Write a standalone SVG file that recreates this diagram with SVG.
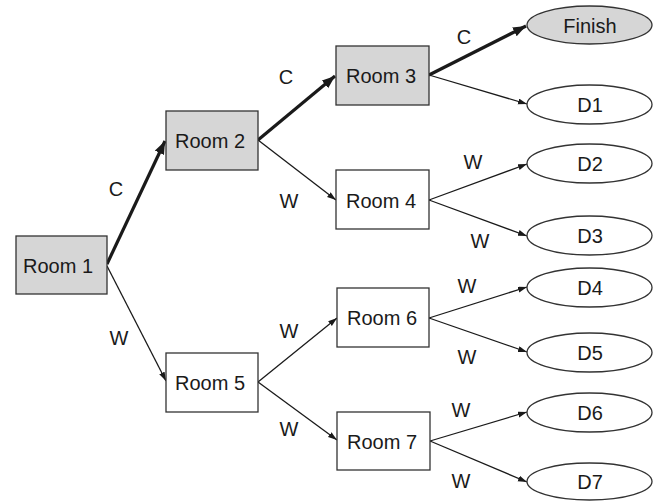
<svg xmlns="http://www.w3.org/2000/svg" width="657" height="501" viewBox="0 0 657 501">
<style>
text{font-family:"Liberation Sans",Arial,sans-serif;font-size:20px;fill:#1a1a1a;text-anchor:middle}
.box{stroke:#333;stroke-width:1.3;fill:#fff}
.g{fill:#d6d6d6}
.thin{stroke:#1a1a1a;stroke-width:1.3;fill:none;marker-end:url(#a)}
.thick{stroke:#1a1a1a;stroke-width:3.2;fill:none;marker-end:url(#b)}
</style>
<defs>
<marker id="a" markerUnits="userSpaceOnUse" markerWidth="10" markerHeight="8" refX="9" refY="3" orient="auto"><path d="M0,0 L9,3 L0,6 Z" fill="#1a1a1a"/></marker>
<marker id="b" markerUnits="userSpaceOnUse" markerWidth="14" markerHeight="11" refX="13" refY="5" orient="auto"><path d="M0,0 L13,5 L0,10 Z" fill="#1a1a1a"/></marker>
</defs>
<rect width="657" height="501" fill="#fff"/>
<g id="connectors">
<line class="thick" x1="107" y1="264" x2="165" y2="141"/>
<line class="thick" x1="258" y1="140" x2="335" y2="76"/>
<line class="thick" x1="429" y1="75" x2="526" y2="26"/>
<line class="thin" x1="429" y1="75" x2="527" y2="104"/>
<line class="thin" x1="258" y1="140" x2="336" y2="200"/>
<line class="thin" x1="429" y1="200" x2="527" y2="164"/>
<line class="thin" x1="429" y1="200" x2="527" y2="236"/>
<line class="thin" x1="107" y1="266" x2="166" y2="381"/>
<line class="thin" x1="258" y1="382" x2="337" y2="318"/>
<line class="thin" x1="258" y1="382" x2="337" y2="440"/>
<line class="thin" x1="429" y1="318" x2="527" y2="287"/>
<line class="thin" x1="429" y1="318" x2="527" y2="352"/>
<line class="thin" x1="430" y1="441" x2="527" y2="412"/>
<line class="thin" x1="430" y1="441" x2="527" y2="482"/>
<text x="116" y="196">C</text>
<text x="286" y="84">C</text>
<text x="464" y="44">C</text>
<text x="289" y="208">W</text>
<text x="473" y="169">W</text>
<text x="480" y="248">W</text>
<text x="119" y="345">W</text>
<text x="289" y="338">W</text>
<text x="289" y="436">W</text>
<text x="467" y="293">W</text>
<text x="467" y="364">W</text>
<text x="461" y="417">W</text>
<text x="461" y="488">W</text>
</g>
<g id="room1"><rect class="box g" x="16" y="236" width="91" height="58"/><text x="58" y="272.5">Room 1</text></g>
<g id="room2"><rect class="box g" x="166" y="111" width="92" height="59"/><text x="210" y="147.5">Room 2</text></g>
<g id="room3"><rect class="box g" x="336" y="46" width="93" height="59"/><text x="381" y="82.5">Room 3</text></g>
<g id="room4"><rect class="box" x="336" y="170" width="93" height="59"/><text x="381" y="207.5">Room 4</text></g>
<g id="room5"><rect class="box" x="166" y="353" width="92" height="59"/><text x="210" y="389.5">Room 5</text></g>
<g id="room6"><rect class="box" x="337" y="288" width="92" height="59"/><text x="382" y="324.5">Room 6</text></g>
<g id="room7"><rect class="box" x="337" y="412" width="93" height="58"/><text x="382" y="448.5">Room 7</text></g>
<g id="finish"><ellipse class="box g" cx="589.5" cy="25" rx="62.5" ry="19"/><text x="590" y="33">Finish</text></g>
<g id="d1"><ellipse class="box" cx="589.5" cy="104.5" rx="62.5" ry="19.5"/><text x="590" y="112">D1</text></g>
<g id="d2"><ellipse class="box" cx="589.5" cy="163.5" rx="62.5" ry="19.5"/><text x="590" y="171">D2</text></g>
<g id="d3"><ellipse class="box" cx="589.5" cy="235.5" rx="62.5" ry="19.5"/><text x="590" y="243">D3</text></g>
<g id="d4"><ellipse class="box" cx="589.5" cy="287.5" rx="62.5" ry="19.5"/><text x="590" y="295">D4</text></g>
<g id="d5"><ellipse class="box" cx="589.5" cy="352.5" rx="62.5" ry="19.5"/><text x="590" y="360">D5</text></g>
<g id="d6"><ellipse class="box" cx="589.5" cy="412.5" rx="62.5" ry="19.5"/><text x="590" y="420">D6</text></g>
<g id="d7"><ellipse class="box" cx="589.5" cy="481.5" rx="62.5" ry="18.5"/><text x="590" y="489">D7</text></g>
</svg>
